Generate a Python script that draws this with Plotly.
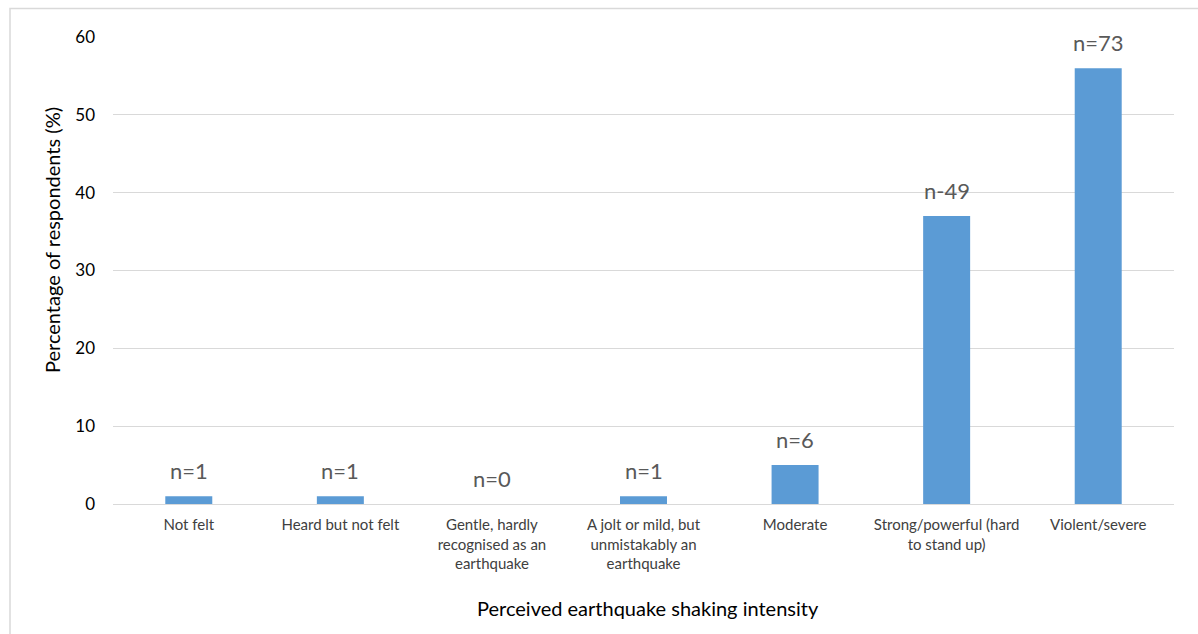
import plotly.graph_objects as go

categories = [
    "Not felt",
    "Heard but not felt",
    "Gentle, hardly<br>recognised as an<br>earthquake",
    "A jolt or mild, but<br>unmistakably an<br>earthquake",
    "Moderate",
    "Strong/powerful (hard<br>to stand up)",
    "Violent/severe",
]
percentages = [1, 1, 0, 1, 5, 37, 56]
count_labels = ["n=1", "n=1", "n=0", "n=1", "n=6", "n-49", "n=73"]

FONT = "Lato, 'Open Sans', sans-serif"
GRID = "#d9d9d9"

# plot-area geometry in pixels, used to place the axis titles
L, R, T, B = 113, 24, 37, 130
PW, PH = 1198 - L - R, 634 - T - B

fig = go.Figure(
    go.Bar(
        x=categories,
        y=percentages,
        marker=dict(color="#5b9bd5", line=dict(width=0)),
        width=0.31,
        hoverinfo="skip",
    )
)

# count labels floating above each bar
for cat, val, lab in zip(categories, percentages, count_labels):
    fig.add_annotation(
        x=cat, y=val, text=lab, showarrow=False,
        yanchor="bottom", yshift=10,
        font=dict(family=FONT, size=22, color="#595959"),
    )

# axis titles
fig.add_annotation(
    text="Perceived earthquake shaking intensity", showarrow=False,
    xref="paper", yref="paper", x=(648 - L) / PW, y=(T + PH - 608) / PH,
    xanchor="center", yanchor="middle",
    font=dict(family=FONT, size=20, color="#000000"),
)
fig.add_annotation(
    text="Percentage of respondents (%)", showarrow=False, textangle=-90,
    xref="paper", yref="paper", x=(52 - L) / PW, y=(T + PH - 240) / PH,
    xanchor="center", yanchor="middle",
    font=dict(family=FONT, size=20, color="#000000"),
)

# light outer frame around the chart
fig.add_shape(
    type="rect", xref="paper", yref="paper",
    x0=(10 - L) / PW, x1=(1205 - L) / PW,
    y0=(T + PH - 645) / PH, y1=(T + PH - 8.5) / PH,
    line=dict(color=GRID, width=1.5), fillcolor="rgba(0,0,0,0)", layer="below",
)

fig.update_layout(
    width=1198, height=634,
    margin=dict(l=L, r=R, t=T, b=B),
    paper_bgcolor="white", plot_bgcolor="white",
    showlegend=False,
    font=dict(family=FONT, color="#404040"),
    bargap=0.69,
    xaxis=dict(
        showgrid=False, showline=True, linecolor=GRID, linewidth=1,
        ticks="", tickfont=dict(size=15, color="#404040"),
        ticklabelstandoff=7,
    ),
    yaxis=dict(
        range=[0, 60], dtick=10, showgrid=True, gridcolor=GRID, gridwidth=1,
        zeroline=False, showline=False, ticks="",
        tickfont=dict(size=17, color="#000000"),
        ticklabelstandoff=17,
    ),
)

fig.write_html("out.html")
